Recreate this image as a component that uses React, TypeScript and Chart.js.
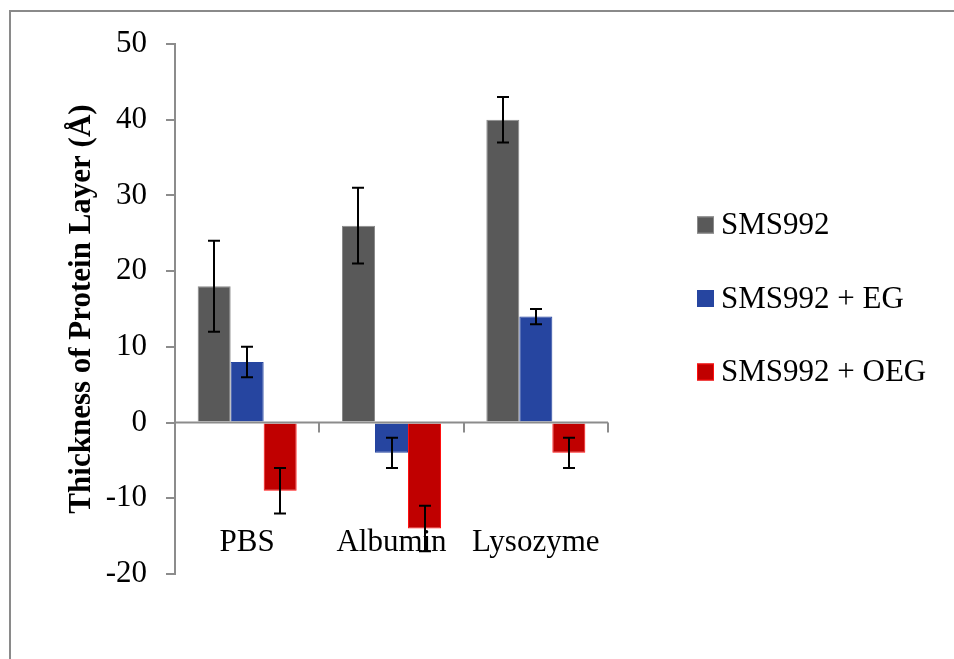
import React, { useEffect, useRef } from "react";
import { Chart, registerables } from "chart.js";

Chart.register(...registerables);

// Protein adsorption measurements
const categories = ["PBS", "Albumin", "Lysozyme"];
const seriesNames = ["SMS992", "SMS992 + EG", "SMS992 + OEG"];
const sms992 = [18, 26, 40];
const sms992Err = [6, 5, 3];
const sms992EG = [8, -4, 14];
const sms992EGErr = [2, 2, 1];
const sms992OEG = [-9, -14, -4];
const sms992OEGErr = [3, 3, 2];
const yTicks = { min: -20, max: 50, step: 10 };
const labelLevel = -17;

const SERIF = "'Liberation Serif', 'Times New Roman', serif";
const AXIS_GRAY = "#8c8c8c";

const fills = ["#595959", "#2645a0", "#c00000"];
const borders = ["#8a8a8a", "#2645a0", "#ff1010"];
const errors = [sms992Err, sms992EGErr, sms992OEGErr];

const framePlugin = {
  id: "frame",
  beforeDraw(chart: any) {
    const ctx = chart.ctx;
    ctx.save();
    ctx.fillStyle = "#ffffff";
    ctx.fillRect(0, 0, chart.width, chart.height);
    ctx.strokeStyle = "#8a8a8a";
    ctx.lineWidth = 2;
    ctx.beginPath();
    ctx.moveTo(10, chart.height);
    ctx.lineTo(10, 11);
    ctx.lineTo(chart.width, 11);
    ctx.stroke();
    ctx.restore();
  },
};

const overlayPlugin = {
  id: "overlay",
  afterDatasetsDraw(chart: any) {
    const ctx = chart.ctx;
    const x = chart.scales.x;
    const y = chart.scales.y;
    const area = chart.chartArea;
    const y0 = y.getPixelForValue(0);
    const n = categories.length;
    const catW = (area.right - area.left) / n;

    ctx.save();
    // horizontal axis at zero with boundary ticks
    ctx.strokeStyle = AXIS_GRAY;
    ctx.lineWidth = 2;
    ctx.beginPath();
    ctx.moveTo(area.left, y0);
    ctx.lineTo(area.right, y0);
    for (let i = 0; i <= n; i++) {
      const bx = Math.round(area.left + i * catW);
      ctx.moveTo(bx, y0);
      ctx.lineTo(bx, y0 + 10);
    }
    ctx.stroke();

    // category labels
    ctx.fillStyle = "#000";
    ctx.font = `31px ${SERIF}`;
    ctx.textAlign = "center";
    ctx.textBaseline = "alphabetic";
    categories.forEach((c, i) => {
      ctx.fillText(c, x.getPixelForValue(i), y.getPixelForValue(labelLevel));
    });

    // error bars
    ctx.strokeStyle = "#000";
    ctx.lineWidth = 2;
    chart.data.datasets.forEach((ds: any, di: number) => {
      const meta = chart.getDatasetMeta(di);
      meta.data.forEach((bar: any, i: number) => {
        const v = ds.data[i];
        const e = errors[di][i];
        const cx = Math.round(bar.x);
        const yt = y.getPixelForValue(v + e);
        const yb = y.getPixelForValue(v - e);
        ctx.beginPath();
        ctx.moveTo(cx, yt);
        ctx.lineTo(cx, yb);
        ctx.moveTo(cx - 6, yt);
        ctx.lineTo(cx + 6, yt);
        ctx.moveTo(cx - 6, yb);
        ctx.lineTo(cx + 6, yb);
        ctx.stroke();
      });
    });

    // legend
    ctx.font = `31px ${SERIF}`;
    ctx.textAlign = "left";
    ctx.textBaseline = "middle";
    chart.data.datasets.forEach((ds: any, di: number) => {
      const cy = 225 + di * 73.5;
      ctx.fillStyle = ds.backgroundColor;
      ctx.fillRect(697, cy - 8.5, 17, 17);
      ctx.strokeStyle = ds.borderColor;
      ctx.lineWidth = 1;
      ctx.strokeRect(697.5, cy - 8, 16, 16);
      ctx.fillStyle = "#000";
      ctx.fillText(ds.label, 721, cy + 1);
    });
    ctx.restore();
  },
};

export default function App() {
  const ref = useRef<HTMLCanvasElement | null>(null);

  useEffect(() => {
    if (!ref.current) return;
    const values = [sms992, sms992EG, sms992OEG];
    const chart = new Chart(ref.current, {
      type: "bar",
      data: {
        labels: categories,
        datasets: seriesNames.map((name, i) => ({
          label: name,
          data: values[i],
          backgroundColor: fills[i],
          borderColor: borders[i],
          borderWidth: 1,
          categoryPercentage: 0.686,
          barPercentage: 1,
        })),
      },
      options: {
        responsive: false,
        animation: false,
        layout: { padding: { top: 44, bottom: 85, right: 346, left: 0 } },
        plugins: {
          legend: { display: false },
          tooltip: { enabled: false },
        },
        scales: {
          x: { display: false },
          y: {
            min: yTicks.min,
            max: yTicks.max,
            afterFit(scale: any) {
              scale.width = 175;
            },
            ticks: {
              stepSize: yTicks.step,
              color: "#000",
              padding: 19,
              font: { family: SERIF, size: 31 },
            },
            grid: {
              drawOnChartArea: false,
              drawTicks: true,
              tickLength: 9,
              color: AXIS_GRAY,
              lineWidth: 2,
            },
            border: { display: true, color: AXIS_GRAY, width: 2 },
            title: {
              display: true,
              text: "Thickness of Protein Layer (Å)",
              color: "#000",
              font: { family: SERIF, size: 31, weight: "bold" },
              padding: { top: 63, bottom: 0 },
            },
          },
        },
      },
      plugins: [framePlugin, overlayPlugin],
    });
    return () => chart.destroy();
  }, []);

  return (
    <canvas
      ref={ref}
      width={954}
      height={659}
      style={{ position: "absolute", left: 0, top: 0, display: "block" }}
    />
  );
}
